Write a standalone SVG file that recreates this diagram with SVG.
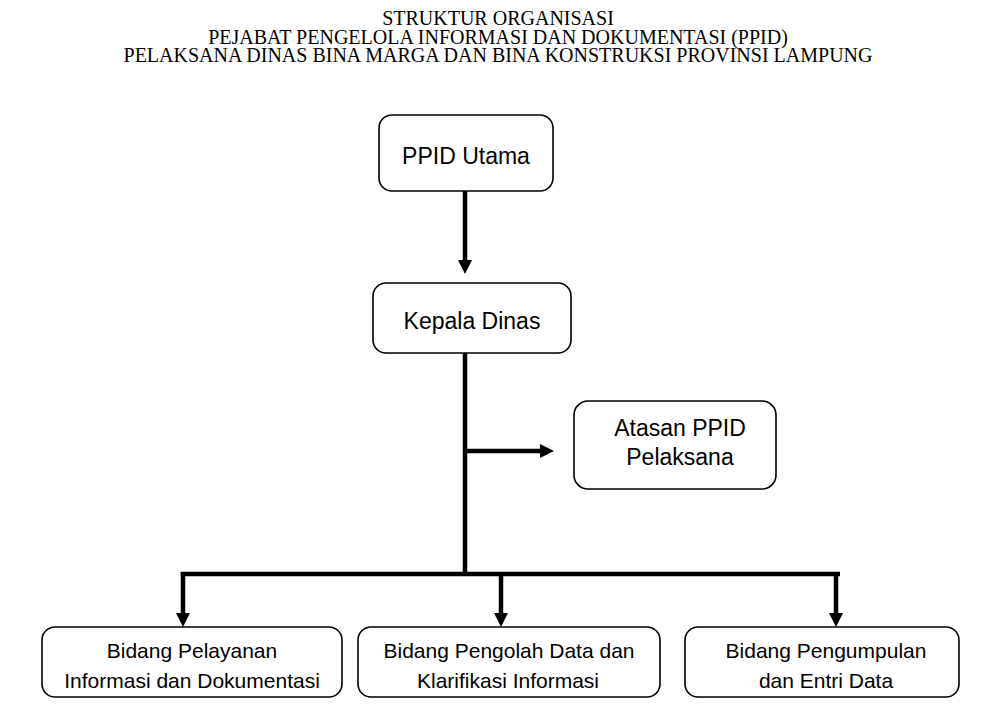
<svg xmlns="http://www.w3.org/2000/svg" width="996" height="714" viewBox="0 0 996 714">
<style>
.title{font-family:"Liberation Serif","Times New Roman",serif;font-size:20px;fill:#000;text-anchor:middle}
.box{fill:#fff;stroke:#000;stroke-width:1.6}
.lbl{font-family:"Liberation Sans",Arial,sans-serif;fill:#000;text-anchor:middle}
.big{font-size:23px}
.sm{font-size:21px}
.con{stroke:#000;stroke-width:4.5;fill:none}
</style>
<defs>
<marker id="ah" markerUnits="userSpaceOnUse" markerWidth="15" markerHeight="15" refX="5" refY="7" orient="auto">
<path d="M0,0 L14,7 L0,14 Z" fill="#000"/>
</marker>
</defs>
<rect width="996" height="714" fill="#fff"/>
<g id="title">
<text class="title" x="498" y="25">STRUKTUR ORGANISASI</text>
<text class="title" x="498" y="43.5">PEJABAT PENGELOLA INFORMASI DAN DOKUMENTASI (PPID)</text>
<text class="title" x="498" y="62">PELAKSANA DINAS BINA MARGA DAN BINA KONSTRUKSI PROVINSI LAMPUNG</text>
</g>
<g id="connectors">
<line class="con" x1="465" y1="191" x2="465" y2="265" marker-end="url(#ah)"/>
<line class="con" x1="465" y1="353" x2="465" y2="576"/>
<line class="con" x1="465" y1="451" x2="545" y2="451" marker-end="url(#ah)"/>
<line class="con" x1="180.75" y1="574" x2="840" y2="574"/>
<line class="con" x1="183" y1="572" x2="183" y2="618" marker-end="url(#ah)"/>
<line class="con" x1="501" y1="574" x2="501" y2="618" marker-end="url(#ah)"/>
<line class="con" x1="836" y1="572" x2="836" y2="618" marker-end="url(#ah)"/>
</g>
<g id="ppid-utama">
<rect class="box" x="379" y="115" width="174" height="76" rx="13"/>
<text class="lbl big" x="466" y="164">PPID Utama</text>
</g>
<g id="kepala-dinas">
<rect class="box" x="373" y="283" width="198" height="70" rx="13"/>
<text class="lbl big" x="472" y="329">Kepala Dinas</text>
</g>
<g id="atasan-ppid">
<rect class="box" x="574" y="401" width="202" height="88" rx="14"/>
<text class="lbl big" x="680" y="436">Atasan PPID</text>
<text class="lbl big" x="680" y="465">Pelaksana</text>
</g>
<g id="bidang-pelayanan">
<rect class="box" x="42" y="627" width="300" height="70" rx="13"/>
<text class="lbl sm" x="192" y="658">Bidang Pelayanan</text>
<text class="lbl sm" x="192" y="688">Informasi dan Dokumentasi</text>
</g>
<g id="bidang-pengolah">
<rect class="box" x="358" y="627" width="302" height="70" rx="13"/>
<text class="lbl sm" x="509" y="658">Bidang Pengolah Data dan</text>
<text class="lbl sm" x="508" y="688">Klarifikasi Informasi</text>
</g>
<g id="bidang-pengumpulan">
<rect class="box" x="685" y="627" width="274" height="70" rx="13"/>
<text class="lbl sm" x="826" y="658">Bidang Pengumpulan</text>
<text class="lbl sm" x="826" y="688">dan Entri Data</text>
</g>
</svg>
